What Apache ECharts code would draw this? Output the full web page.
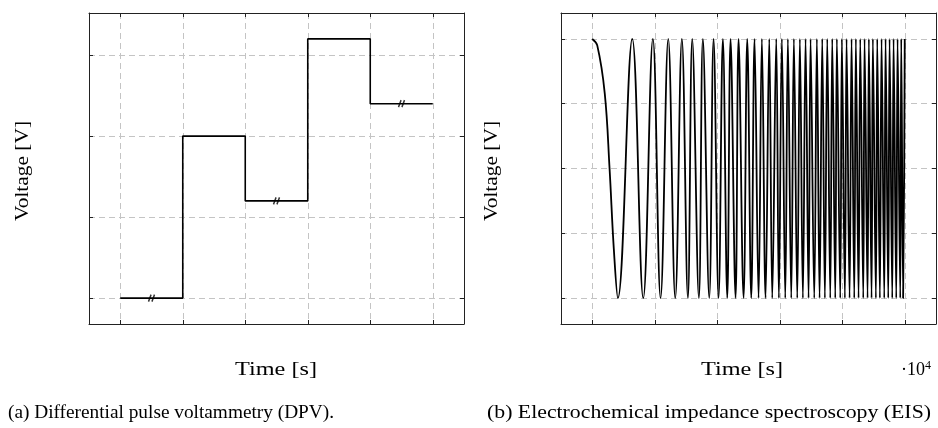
<!DOCTYPE html>
<html><head><meta charset="utf-8">
<script src="https://cdn.jsdelivr.net/npm/echarts@6/dist/echarts.min.js"></script>
<style>html,body{margin:0;padding:0;background:#fff}#c{width:938px;height:428px}</style>
</head><body><div id="c"></div>
<script>
// ---- DPV (left) ----
const dpvTimes = [0, 1, 2, 3, 4, 5];
const dpvLevels = [0, 2, 1.2, 3.2, 2.4, 2.4];
const dpvBreakTimes = [0.5, 2.5, 4.5];
const dpvBreakLevels = [0, 1.2, 2.4];
const dpvXTicks = [0, 1, 2, 3, 4, 5];
const dpvYTicks = [0, 1, 2, 3];
// ---- EIS (right): values ----
// initial descent (before the first minimum)
const eisStartTimes = [0.08, 0.20, 0.277, 0.345];
const eisStartValues = [0.95, 0.58, 0.0, -0.62];
// times of the maxima and minima
const eisPeakTimes = [0, 0.640, 0.970, 1.216, 1.434, 1.600, 1.770, 1.941, 2.090, 2.213, 2.341, 2.480, 2.597, 2.714, 2.832, 2.944, 3.034, 3.130, 3.226, 3.322, 3.413, 3.493, 3.594, 3.680, 3.760, 3.840, 3.914, 3.994, 4.069, 4.149, 4.218, 4.288, 4.357, 4.426, 4.490, 4.560, 4.629, 4.693, 4.757, 4.821, 4.885, 4.944, 5.0];
const eisTroughTimes = [0.410, 0.816, 1.093, 1.328, 1.530, 1.706, 1.872, 2.021, 2.160, 2.293, 2.421, 2.544, 2.661, 2.773, 2.880, 2.986, 3.088, 3.184, 3.280, 3.370, 3.461, 3.552, 3.637, 3.722, 3.808, 3.888, 3.968, 4.042, 4.117, 4.192, 4.261, 4.336, 4.405, 4.469, 4.538, 4.602, 4.672, 4.736, 4.800, 4.864, 4.928, 4.974];
const eisPeakValue = 1;
const eisTroughValue = -1;
const eisXTicks = [0, 1, 2, 3, 4, 5];
const eisYTicks = [-1, -0.5, 0, 0.5, 1];

const eisData = eisPeakTimes.map(t => [t, eisPeakValue])
  .concat(eisTroughTimes.map(t => [t, eisTroughValue]))
  .concat(eisStartTimes.map((t, i) => [t, eisStartValues[i]]))
  .sort((a, b) => a[0] - b[0]);

const FRAME = '#222';
const GRIDC = '#c4c4c4';
const SERIF = '"Liberation Serif", "DejaVu Serif", serif';
const FONT = '18px ' + SERIF;

const mctx = document.createElement('canvas').getContext('2d');
function fitScale(text, font, target) {
  mctx.font = font;
  return target / mctx.measureText(text).width;
}

function axisPair(dim, gridIndex, min, max, ticks) {
  const base = {
    type: 'value', gridIndex, min, max,
    axisLine: { show: true, onZero: false, lineStyle: { color: FRAME, width: 1 } },
    axisTick: { show: true, inside: true, length: 4, customValues: ticks, lineStyle: { color: FRAME } },
    axisLabel: { show: false, customValues: ticks },
    splitLine: { show: false }
  };
  const main = Object.assign({}, base, {
    position: dim === 'x' ? 'bottom' : 'left',
    splitLine: { show: true, lineStyle: { color: GRIDC, width: 1, type: [6, 4] } }
  });
  const other = Object.assign({}, base, { position: dim === 'x' ? 'top' : 'right' });
  return [main, other];
}

function label(text, x, y, width, rotate) {
  const s = fitScale(text, FONT, width);
  return {
    type: 'text', x, y, rotation: rotate ? Math.PI / 2 : 0, scaleX: s,
    style: { text, font: FONT, fill: '#000', align: 'center', verticalAlign: 'middle' }
  };
}

const chart = echarts.init(document.getElementById('c'), null, { renderer: 'canvas' });
const breakSymbol = 'path://M0,10 L3,0 M4,10 L7,0';

chart.setOption({
  animation: false,
  grid: [
    { left: 89, top: 13, width: 375, height: 311 },
    { left: 561, top: 13, width: 375, height: 311 }
  ],
  xAxis: [].concat(axisPair('x', 0, -0.5, 5.5, dpvXTicks), axisPair('x', 1, -0.5, 5.5, eisXTicks)),
  yAxis: [].concat(axisPair('y', 0, -0.32, 3.52, dpvYTicks), axisPair('y', 1, -1.2, 1.2, eisYTicks)),
  series: [
    {
      type: 'line', xAxisIndex: 0, yAxisIndex: 0, step: 'end', showSymbol: false,
      data: dpvTimes.map((t, i) => [t, dpvLevels[i]]),
      lineStyle: { color: '#000', width: 1.6 }
    },
    {
      type: 'scatter', xAxisIndex: 0, yAxisIndex: 0, symbol: breakSymbol, symbolSize: [6, 7],
      data: dpvBreakTimes.map((t, i) => [t, dpvBreakLevels[i]]),
      itemStyle: { color: 'none', borderColor: '#000', borderWidth: 1.6 }
    },
    {
      type: 'line', xAxisIndex: 2, yAxisIndex: 2, showSymbol: false, smooth: 0.4,
      data: eisData,
      lineStyle: { color: '#000', width: 1.8 }
    }
  ],
  graphic: [
    label('Voltage [V]', 23, 171, 100, true),
    label('Voltage [V]', 492, 171, 100, true),
    label('Time [s]', 276, 370, 82, false),
    label('Time [s]', 742, 370, 82, false),
    { type: 'text', x: 916, y: 370,
      style: { text: '·10{s|4}', font: FONT, fill: '#000', align: 'center', verticalAlign: 'middle',
        rich: { s: { font: '12px ' + SERIF, verticalAlign: 'top', padding: [0, 0, 8, 0] } } } },
    label('(a) Differential pulse voltammetry (DPV).', 171, 413, 326, false),
    label('(b) Electrochemical impedance spectroscopy (EIS)', 709, 413, 444, false)
  ]
});
</script></body></html>
